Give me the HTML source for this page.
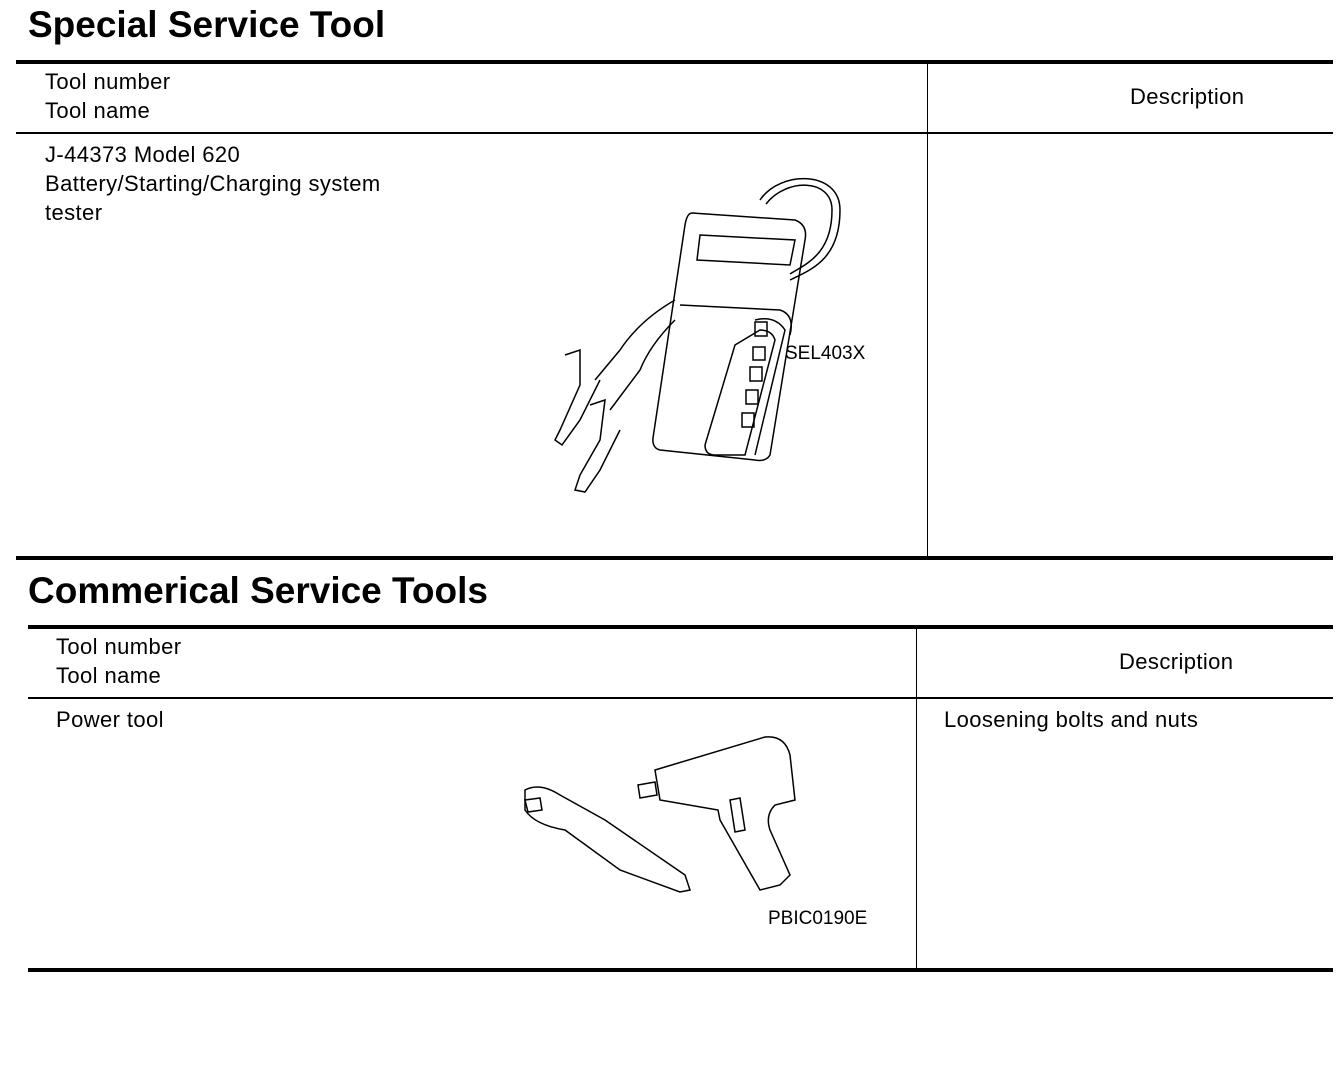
<!DOCTYPE html>
<html><head><meta charset="utf-8"><style>
body{margin:0;width:1344px;height:1068px;background:#fff;position:relative;font-family:"Liberation Sans",Arial,sans-serif;color:#000;overflow:hidden}
.a{position:absolute;white-space:nowrap}
.h{font-weight:bold;font-size:37px}
.t{font-size:22px;letter-spacing:0.4px;line-height:29px}
.l{position:absolute;background:#000}
</style></head><body>
<div class="a h" style="left:28px;top:4px">Special Service Tool</div>
<div class="l" style="left:16px;top:60px;width:1317px;height:4px"></div>
<div class="l" style="left:16px;top:132px;width:1317px;height:2px"></div>
<div class="l" style="left:927px;top:62px;width:1px;height:496px"></div>
<div class="l" style="left:16px;top:556px;width:1317px;height:4px"></div>
<div class="a t" style="left:45px;top:67px">Tool number<br>Tool name</div>
<div class="a t" style="left:1130px;top:82px">Description</div>
<div class="a t" style="left:45px;top:140px">J-44373 Model 620<br>Battery/Starting/Charging system<br>tester</div>
<svg class="a" style="left:540px;top:170px" width="340" height="330" fill="none" stroke="#000" stroke-width="1.5">
<path d="M220,30 C240,0 300,0 300,40 C300,90 270,100 250,110"/>
<path d="M226,34 C246,8 292,8 292,40 C292,84 266,94 250,104"/>
<path d="M152,43 L255,50 Q268,55 265,70 L230,285 Q226,292 215,290 L120,280 Q112,278 113,268 L145,55 Q147,43 152,43Z"/>
<path d="M160,65 L255,70 L250,95 L157,90Z"/>
<path d="M140,135 L240,140 Q255,145 250,165"/>
<path d="M215,150 Q235,145 245,160 L215,285"/>
<path d="M195,175 L165,275 Q165,285 175,285 L205,285 L235,170 Q232,160 220,160Z"/>
<rect x="215" y="152" width="12" height="14"/><rect x="213" y="177" width="12" height="13"/>
<rect x="210" y="197" width="12" height="14"/><rect x="206" y="220" width="12" height="14"/><rect x="202" y="243" width="12" height="14"/>
<path d="M135,130 Q100,150 80,180 L55,210 M135,150 Q110,175 100,200 L70,240"/>
<path d="M25,185 L40,180 L40,215 L20,260 L15,270 L22,275 L40,250 L60,210"/>
<path d="M50,235 L65,230 L60,270 L40,305 L35,320 L45,322 L60,300 L80,260"/>
</svg>
<div class="a" style="left:785px;top:343px;font-size:19px">SEL403X</div>

<div class="a h" style="left:28px;top:570px">Commerical Service Tools</div>
<div class="l" style="left:28px;top:625px;width:1305px;height:4px"></div>
<div class="l" style="left:28px;top:697px;width:1305px;height:2px"></div>
<div class="l" style="left:916px;top:627px;width:1px;height:343px"></div>
<div class="l" style="left:28px;top:968px;width:1305px;height:4px"></div>
<div class="a t" style="left:56px;top:632px">Tool number<br>Tool name</div>
<div class="a t" style="left:1119px;top:647px">Description</div>
<div class="a t" style="left:56px;top:705px">Power tool</div>
<div class="a t" style="left:944px;top:705px">Loosening bolts and nuts</div>
<svg class="a" style="left:500px;top:720px" width="380" height="200" fill="none" stroke="#000" stroke-width="1.5">
<path d="M155,50 L265,17 Q285,15 290,35 L295,80 L275,85 Q265,95 270,110 L290,155 L280,165 L260,170 L220,100 L218,90 L160,80Z"/>
<path d="M138,65 L155,62 L157,75 L140,78Z"/>
<path d="M25,70 Q40,62 60,75 L105,100 L185,155 L190,170 L180,172 L120,150 L65,110 Q35,105 25,90Z"/>
<path d="M25,80 L40,78 L42,90 L28,92Z"/>
<path d="M230,80 L240,78 L245,110 L235,112Z"/>
</svg>
<div class="a" style="left:768px;top:908px;font-size:19px">PBIC0190E</div>
</body></html>
